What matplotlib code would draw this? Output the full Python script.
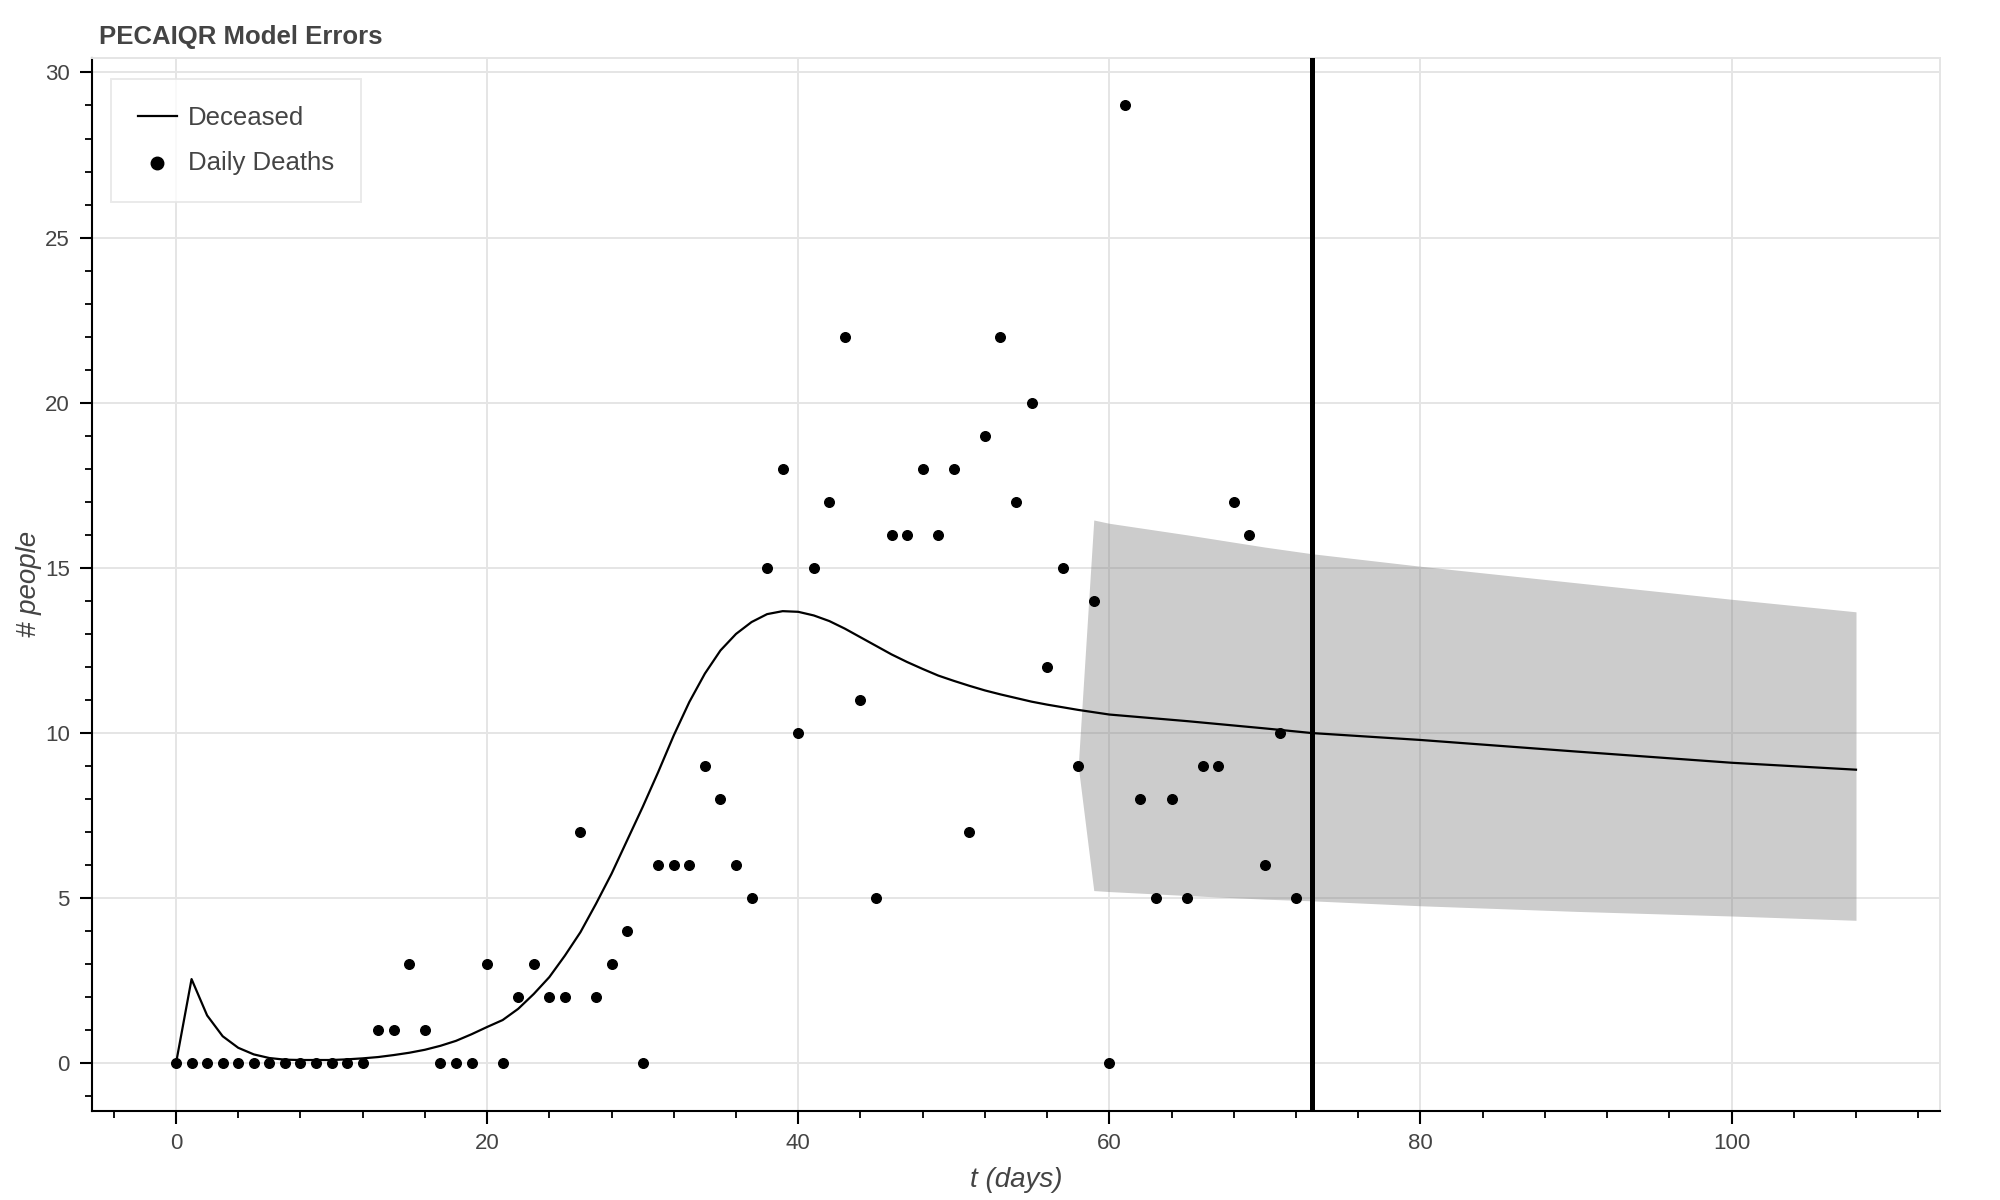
import matplotlib.pyplot as plt
from matplotlib.ticker import MultipleLocator
import numpy as np

# data
days = np.arange(0, 73)
daily_deaths = [0, 0, 0, 0, 0, 0, 0, 0, 0, 0, 0, 0, 0, 1, 1, 3, 1, 0, 0, 0,
                3, 0, 2, 3, 2, 2, 7, 2, 3, 4, 0, 6, 6, 6, 9, 8, 6, 5, 15, 18,
                10, 15, 17, 22, 11, 5, 16, 16, 18, 16, 18, 7, 19, 22, 17, 20, 12, 15, 9, 14,
                0, 29, 8, 5, 8, 5, 9, 9, 17, 16, 6, 10, 5]

model_t = list(range(0, 61)) + [65, 70, 73, 80, 90, 100, 108]
model_deceased = [0.0, 2.55, 1.45, 0.82, 0.47, 0.27, 0.16, 0.11, 0.10, 0.10,
                  0.10, 0.12, 0.15, 0.19, 0.25, 0.32, 0.41, 0.53, 0.68, 0.88,
                  1.1, 1.31, 1.65, 2.1, 2.61, 3.26, 3.97, 4.83, 5.74, 6.75,
                  7.76, 8.82, 9.93, 10.94, 11.8, 12.5, 13.0, 13.36, 13.6, 13.69,
                  13.67, 13.56, 13.39, 13.16, 12.9, 12.64, 12.38, 12.15, 11.94, 11.74,
                  11.58, 11.43, 11.29, 11.17, 11.06, 10.95, 10.86, 10.78, 10.7, 10.63,
                  10.56, 10.36, 10.14, 10.0, 9.79, 9.44, 9.1, 8.89]

band_t = [58, 59, 60, 65, 70, 73, 80, 90, 100, 108]
band_upper = [9.0, 16.45, 16.35, 16.0, 15.63, 15.43, 15.05, 14.55, 14.05, 13.67]
band_lower = [9.0, 5.23, 5.2, 5.08, 4.97, 4.92, 4.77, 4.6, 4.46, 4.33]

today = 73

plt.rcParams['font.family'] = ['Liberation Sans', 'DejaVu Sans']

fig = plt.figure(figsize=(20, 12), dpi=100)
ax = fig.add_axes([0.046, 0.074, 0.924, 0.878])

grid_c = '#e5e5e5'
ax.fill_between(band_t, band_lower, band_upper, color='gray', alpha=0.4, linewidth=0, zorder=2)
ax.plot(model_t, model_deceased, color='black', linewidth=1.6, label='Deceased', zorder=3)
ax.scatter(days, daily_deaths, s=48, color='black', label='Daily Deaths', zorder=4)
ax.axvline(today, color='black', linewidth=3.6, zorder=5)

ax.set_xlim(-5.4, 113.4)
ax.set_ylim(-1.45, 30.45)
ax.xaxis.set_major_locator(MultipleLocator(20))
ax.xaxis.set_minor_locator(MultipleLocator(4))
ax.yaxis.set_major_locator(MultipleLocator(5))
ax.yaxis.set_minor_locator(MultipleLocator(1))

ax.grid(True, which='major', color=grid_c, linewidth=1.4, zorder=0)
ax.set_axisbelow(True)

for s in ['top', 'right']:
    ax.spines[s].set_color(grid_c)
    ax.spines[s].set_linewidth(1.4)
for s in ['left', 'bottom']:
    ax.spines[s].set_color('black')
    ax.spines[s].set_linewidth(1.5)

ax.tick_params(which='major', direction='out', length=9, width=1.5, labelsize=16,
               labelcolor='#444444', pad=7)
ax.tick_params(which='minor', direction='out', length=5, width=1.3)

ax.set_xlabel('t (days)', fontsize=20, style='italic', color='#444444')
ax.set_ylabel('# people', fontsize=20, style='italic', color='#444444')
ax.xaxis.set_label_coords(0.5, -0.053)
ax.yaxis.set_label_coords(-0.027, 0.5)

fig.text(0.0495, 0.969, 'PECAIQR Model Errors', fontsize=18.5, fontweight='bold',
         color='#444444', ha='left', va='center')

leg = ax.legend(loc='upper left', bbox_to_anchor=(0.0103, 0.9795), borderaxespad=0,
                fontsize=18.5, frameon=True, fancybox=False, edgecolor=grid_c,
                borderpad=1.05, labelspacing=0.8, handlelength=1.5, handletextpad=0.45,
                markerscale=1.3)
leg.get_frame().set_linewidth(1.4)
for t in leg.get_texts():
    t.set_color('#444444')

plt.savefig('out.png', dpi=100)
